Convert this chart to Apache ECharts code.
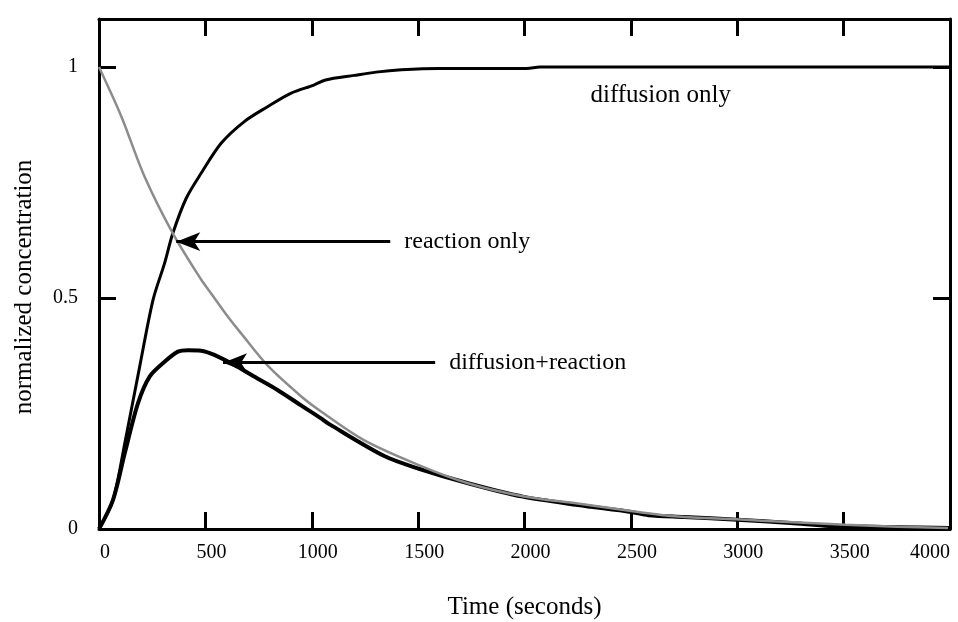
<!DOCTYPE html>
<html><head><meta charset="utf-8">
<script src="https://cdn.jsdelivr.net/npm/echarts@6/dist/echarts.min.js"></script>
<style>html,body{margin:0;padding:0;background:#fff;overflow:hidden}#c{width:958px;height:622px}</style>
</head><body><div id="c"></div>
<script>
// ---- data (time in seconds, normalized concentration) ----
const diffusionOnly = [
  [0,0],[66,0.063],[123,0.19],[191,0.351],[254,0.496],[308,0.575],[347,0.64],[410,0.716],
  [480,0.77],[574,0.835],[683,0.882],[792,0.914],[901,0.943],[1010,0.961],[1065,0.972],
  [1200,0.982],[1302,0.989],[1421,0.994],[1598,0.997],[2011,0.997],[2072,1.0],[4000,1.0]
];
const reactionOnly = [
  [0,1.0],[105,0.893],[214,0.763],[347,0.64],[480,0.54],[527,0.51],[605,0.46],[667,0.424],
  [792,0.354],[948,0.288],[1042,0.255],[1243,0.193],[1500,0.139],[1735,0.099],[1992,0.071],
  [2250,0.055],[2484,0.04],[2721,0.027],[2996,0.021],[3115,0.018],[3509,0.009],[3750,0.005],[3991,0.002]
];
const diffusionReaction = [
  [0,0],[66,0.063],[121,0.164],[183,0.272],[238,0.33],[308,0.362],[371,0.384],[418,0.387],
  [480,0.386],[542,0.377],[636,0.355],[729,0.33],[839,0.301],[948,0.268],[1042,0.24],
  [1086,0.226],[1341,0.158],[1500,0.131],[1735,0.099],[1992,0.07],[2250,0.052],[2500,0.037],
  [2583,0.03],[2750,0.026],[3000,0.02],[3250,0.013],[3430,0.0065],[3500,0.006],[3750,0.004],[4000,0.002]
];
const annotationLabels = ['reaction only', 'diffusion+reaction', 'diffusion only'];
const xTicks = [0, 500, 1000, 1500, 2000, 2500, 3000, 3500, 4000];
const yTicks = [0, 0.5, 1];

// ---- chart ----
const FONT = '"Liberation Serif", "DejaVu Serif", serif';
const chart = echarts.init(document.getElementById('c'), null, {renderer: 'canvas'});
const axisLine = {show: true, onZero: false, lineStyle: {color: '#000', width: 3}};
const tick = {show: true, inside: true, length: 17, lineStyle: {color: '#000', width: 3}};
const xMin = xTicks[0], xMax = xTicks[xTicks.length - 1];
const yMin = yTicks[0], yMax = 1.104;
const plain = v => String(v);

chart.setOption({
  animation: false,
  backgroundColor: '#fff',
  grid: {left: 99, right: 8, top: 19, bottom: 93, containLabel: false, outerBoundsMode: 'none'},
  xAxis: [{
    type: 'value', position: 'bottom', min: xMin, max: xMax, interval: 500,
    axisLine, axisTick: tick, splitLine: {show: false},
    axisLabel: {color: '#000', fontFamily: FONT, fontSize: 20, margin: 14, formatter: plain,
      padding: [0, 0, 0, 12], alignMaxLabel: 'right'},
    name: 'Time (seconds)', nameLocation: 'middle', nameGap: 66,
    nameTextStyle: {color: '#000', fontFamily: FONT, fontSize: 25}
  }, {
    type: 'value', position: 'top', min: xMin, max: xMax, interval: 500,
    axisLine, axisTick: tick, splitLine: {show: false}, axisLabel: {show: false}
  }],
  yAxis: [{
    type: 'value', position: 'left', min: yMin, max: yMax, interval: 0.5,
    axisLine, axisTick: tick, splitLine: {show: false},
    axisLabel: {color: '#000', fontFamily: FONT, fontSize: 20, margin: 21, showMaxLabel: false, formatter: plain},
    name: 'normalized concentration', nameLocation: 'middle', nameGap: 62, nameRotate: 90,
    nameTextStyle: {color: '#000', fontFamily: FONT, fontSize: 25, padding: [0, 26, 0, 0]}
  }, {
    type: 'value', position: 'right', min: yMin, max: yMax, interval: 0.5,
    axisLine, axisTick: tick, splitLine: {show: false}, axisLabel: {show: false}
  }],
  series: [{
    name: 'diffusion only', type: 'line', data: diffusionOnly, showSymbol: false, smooth: 0.3,
    lineStyle: {color: '#000', width: 3}, z: 3,
    markLine: {
      silent: true, symbol: ['none', 'arrow'], symbolSize: [14, 24],
      lineStyle: {color: '#000', width: 3, type: 'solid'},
      label: {show: true, position: 'start', distance: 14, color: '#000', fontFamily: FONT, fontSize: 24},
      data: [
        [{coord: [1369, 0.622], label: {formatter: annotationLabels[0]}}, {coord: [363, 0.622]}],
        [{coord: [1580, 0.360], label: {formatter: annotationLabels[1]}}, {coord: [583, 0.360]}]
      ]
    },
    markPoint: {
      silent: true, symbol: 'circle', symbolSize: 0,
      label: {show: true, position: 'right', distance: 0, color: '#000', fontFamily: FONT, fontSize: 25},
      data: [{coord: [2310, 0.938], label: {formatter: annotationLabels[2]}}]
    }
  }, {
    name: 'diffusion+reaction', type: 'line', data: diffusionReaction, showSymbol: false, smooth: 0.3,
    lineStyle: {color: '#000', width: 4}, z: 3
  }, {
    name: 'reaction only', type: 'line', data: reactionOnly, showSymbol: false, smooth: 0.3,
    lineStyle: {color: '#8c8c8c', width: 2.5}, z: 4
  }]
});
</script></body></html>
